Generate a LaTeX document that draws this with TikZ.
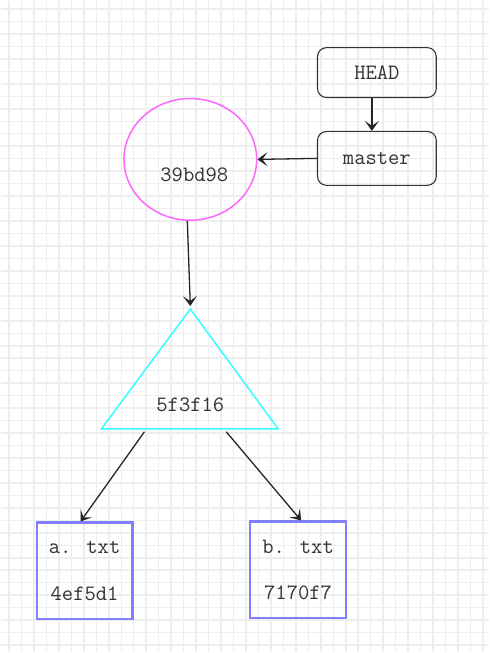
\documentclass[tikz,border=0pt]{standalone}
\usepackage{tikz}
\usetikzlibrary{arrows.meta,positioning,shapes.geometric,calc}
\definecolor{gitGrid}{RGB}{238,238,238}
\definecolor{gitText}{RGB}{51,51,51}
\definecolor{gitPink}{RGB}{255,102,255}
\definecolor{gitCyan}{RGB}{51,255,255}
\definecolor{gitBlob}{RGB}{128,128,255}

\begin{document}
\begin{tikzpicture}[x=1pt, y=1pt,
    txt/.style={font=\fontsize{22}{26}\selectfont\ttfamily, text=gitText},
    ref/.style={txt, rectangle, rounded corners=9pt, draw=black!80, line width=1.1pt,
                minimum width=119pt, minimum height=50pt},
    commit/.style={ellipse, draw=gitPink, line width=1.5pt,
                   minimum width=133pt, minimum height=122pt},
    blob/.style={txt, rectangle, draw=gitBlob, line width=2.2pt, align=center,
                 minimum width=96pt, minimum height=97pt},
    arr/.style={-{Stealth[length=10pt, width=14pt, inset=5pt]}, black!85, line width=1.3pt}
  ]
  % background grid
  \fill[white] (0,0) rectangle (489,-653);
  \foreach \i in {0,...,38}
    \draw[gitGrid, line width=1.5pt] (8.3+12.5*\i,0) -- (8.3+12.5*\i,-653);
  \foreach \j in {0,...,51}
    \draw[gitGrid, line width=1.5pt] (0,-8.3-12.5*\j) -- (489,-8.3-12.5*\j);
  \useasboundingbox (0,0) rectangle (489,-653);

  \node[ref] (head)   at (377,-72)  {HEAD};
  \node[ref, minimum height=54pt] (master) at (377,-158) {master};
  \node[commit] (c39) at (190,-159) {};
  \node[txt] (c39txt) at (194,-174) {39bd98};

  % tree object
  \coordinate (apex) at (190,-309);
  \coordinate (bl)   at (101,-429);
  \coordinate (br)   at (278,-429);
  \draw[gitCyan, line width=1.5pt] (apex) -- (br) -- (bl) -- cycle;
  \node[txt] (tree) at (190,-405) {5f3f16};
  \coordinate (tl) at (144,-432);
  \coordinate (tr) at (226,-432);

  \node[blob] (fa) at (84,-571.5)  {a. txt\\[21pt]4ef5d1};
  \node[blob] (fb) at (298,-570.5) {b. txt\\[21pt]7170f7};

  \draw[arr] ([xshift=-5pt]head.south) -- ([xshift=-5pt]master.north);
  \draw[arr] (master.west) -- (c39.east);
  \draw[arr] ([xshift=-3pt]c39.south) -- ([yshift=3pt]apex);
  \draw[arr] (tl) -- ([xshift=-4pt]fa.north);
  \draw[arr] (tr) -- ([xshift=3pt]fb.north);
\end{tikzpicture}
\end{document}
